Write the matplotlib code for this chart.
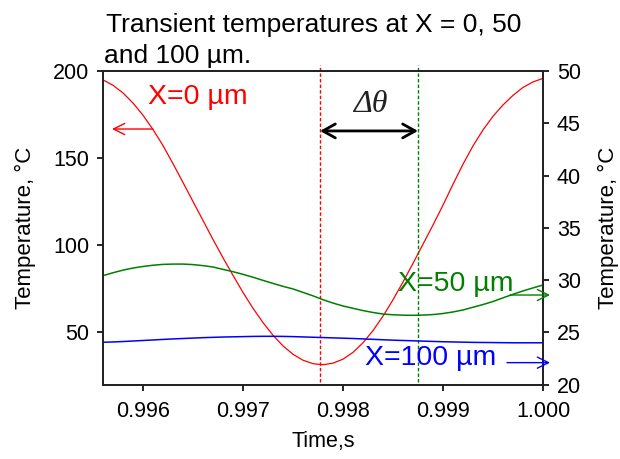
import matplotlib
matplotlib.use('Agg')
import matplotlib.pyplot as plt

plt.rcParams['font.family'] = ['Liberation Sans', 'DejaVu Sans']

# time, s
time = [0.9956, 0.9957, 0.9958, 0.9959, 0.9960, 0.9961, 0.9962, 0.9963, 0.9964,
        0.9965, 0.9966, 0.9967, 0.9968, 0.9969, 0.9970, 0.9971, 0.9972, 0.9973,
        0.9974, 0.9975, 0.9976, 0.9977, 0.9978, 0.9979, 0.9980, 0.9981, 0.9982,
        0.9983, 0.9984, 0.9985, 0.9986, 0.9987, 0.9988, 0.9989, 0.9990, 0.9991,
        0.9992, 0.9993, 0.9994, 0.9995, 0.9996, 0.9997, 0.9998, 0.9999, 1.0000]

# X = 0 um (left axis)
temp_x0 = [194.9, 191.8, 187.4, 181.6, 174.6, 166.4, 157.2, 146.8, 136.0,
           125.1, 114.2, 103.3, 92.8, 82.7, 72.9, 63.8, 55.6, 48.3,
           42.2, 37.4, 34.0, 32.0, 31.4, 32.3, 34.6, 38.5, 44.0,
           51.0, 59.3, 68.7, 78.9, 89.6, 100.6, 111.6, 123.0, 135.0,
           146.5, 157.0, 166.2, 174.0, 180.5, 186.0, 190.6, 193.7, 195.8]

# X = 50 um (right axis)
temp_x50 = [30.42, 30.70, 30.95, 31.15, 31.30, 31.42, 31.50, 31.53, 31.53,
            31.48, 31.38, 31.25, 31.02, 30.80, 30.55, 30.27, 29.97, 29.68,
            29.40, 29.15, 28.82, 28.49, 28.12, 27.80, 27.52, 27.30, 27.08,
            26.90, 26.75, 26.68, 26.64, 26.63, 26.65, 26.70, 26.80, 26.95,
            27.14, 27.40, 27.66, 27.95, 28.30, 28.64, 28.96, 29.25, 29.53]

# X = 100 um (right axis)
temp_x100 = [24.05, 24.08, 24.12, 24.17, 24.22, 24.27, 24.32, 24.37, 24.41,
             24.45, 24.49, 24.52, 24.55, 24.57, 24.59, 24.61, 24.62, 24.62,
             24.61, 24.59, 24.56, 24.53, 24.50, 24.47, 24.44, 24.41, 24.37,
             24.33, 24.29, 24.25, 24.22, 24.19, 24.16, 24.13, 24.10, 24.08,
             24.06, 24.04, 24.03, 24.02, 24.01, 24.00, 24.00, 24.00, 24.00]

t_min0 = 0.99777
t_min50 = 0.99875

fig = plt.figure(figsize=(6.2, 4.59), dpi=100)
ax = fig.add_axes([103/620, 1 - 384.6/459, 440/620, 313.6/459])
ax2 = ax.twinx()

ax.plot(time, temp_x0, color='#ff0000', lw=0.9)
ax2.plot(time, temp_x50, color='#008000', lw=1.1)
ax2.plot(time, temp_x100, color='#0000ff', lw=1.1)

ax.set_xlim(0.9956, 1.0)
ax.set_ylim(20, 200)
ax2.set_ylim(20, 50)
ax.set_xticks([0.996, 0.997, 0.998, 0.999, 1.000])
ax.set_xticklabels(['0.996', '0.997', '0.998', '0.999', '1.000'])
ax.set_yticks([50, 100, 150, 200])
ax2.set_yticks([20, 25, 30, 35, 40, 45, 50])

for a in (ax, ax2):
    a.tick_params(labelsize=15.5, length=4, width=1.2, direction='out', pad=6)
    for s in a.spines.values():
        s.set_linewidth(1.3)
        s.set_color('#222222')
ax.tick_params(axis='x', pad=8)

ax.set_xlabel('Time,s', fontsize=15.5, labelpad=6)
ax.set_ylabel('Temperature, °C', fontsize=16, labelpad=12)
ax2.set_ylabel('Temperature, °C', fontsize=16, labelpad=12)

# dashed markers at the minima
ax.plot([t_min0, t_min0], [21.5, 203.5], color='#ff0000', lw=1, ls=(0, (2.5, 1.5)), clip_on=False)
ax.plot([t_min50, t_min50], [21.5, 203.5], color='#008000', lw=1, ls=(0, (2.5, 1.5)), clip_on=False)

# phase shift arrow
ax.annotate('', xy=(t_min0, 165.6), xytext=(t_min50, 165.6),
            arrowprops=dict(arrowstyle='<->,head_length=0.9,head_width=0.5', color='black', lw=2,
                            shrinkA=0, shrinkB=0))
ax.text(0.99827, 180.5, 'Δθ', fontsize=23, style='italic', family='Liberation Serif',
        ha='center', va='center', color='#222222')

# series labels with arrows to their axes
ax.text(0.99605, 185.1, 'X=0 µm', color='#ff0000', fontsize=20.5, ha='left', va='center')
ax.annotate('', xy=(0.99569, 166.7), xytext=(0.9961, 166.7),
            arrowprops=dict(arrowstyle='->,head_length=0.8,head_width=0.4', color='#ff0000', lw=1,
                            shrinkA=0, shrinkB=0))
ax2.text(0.99855, 29.62, 'X=50 µm', color='#008000', fontsize=20.5, ha='left', va='center')
ax2.annotate('', xy=(1.00007, 28.57), xytext=(0.99967, 28.57),
             arrowprops=dict(arrowstyle='->,head_length=0.8,head_width=0.4', color='#008000', lw=1,
                             shrinkA=0, shrinkB=0), annotation_clip=False)
ax2.text(0.99822, 22.5, 'X=100 µm', color='#0000ff', fontsize=20.5, ha='left', va='center')
ax2.annotate('', xy=(1.00007, 22.1), xytext=(0.99964, 22.1),
             arrowprops=dict(arrowstyle='->,head_length=0.8,head_width=0.4', color='#0000ff', lw=1,
                             shrinkA=0, shrinkB=0), annotation_clip=False)

fig.text(106/620, 1 - 32/459, 'Transient temperatures at X = 0, 50',
         fontsize=19, ha='left', va='baseline')
fig.text(104/620, 1 - 63/459, 'and 100 µm.',
         fontsize=19, ha='left', va='baseline')

fig.savefig('out.png', dpi=100)
